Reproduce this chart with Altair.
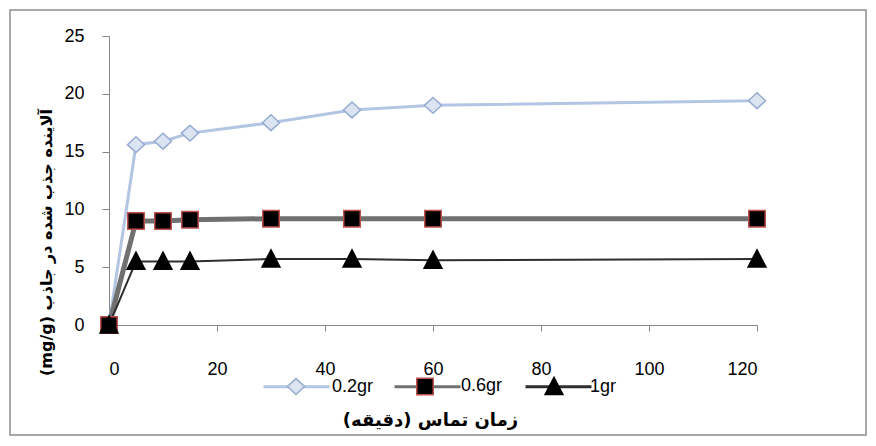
import altair as alt
import pandas as pd

times = [0, 5, 10, 15, 30, 45, 60, 120]
q_02 = [0, 15.6, 15.9, 16.6, 17.5, 18.6, 19.0, 19.4]
q_06 = [0, 9.0, 9.0, 9.1, 9.2, 9.2, 9.2, 9.2]
q_1 = [0, 5.5, 5.5, 5.5, 5.7, 5.7, 5.6, 5.7]
series = ["0.2gr", "0.6gr", "1gr"]
x_ticks = [0, 20, 40, 60, 80, 100, 120]
y_ticks = [0, 5, 10, 15, 20, 25]

x_title = "\u202Bزمان تماس (دقیقه)\u202C"
y_title = "\u202Bآلاینده جذب شده در جاذب (mg/g)\u202C"

line_keys = ["L" + s for s in series]
line_colors = ["#b3c5e3", "#707070", "#2e2e2e"]
line_widths = [3, 5, 2]
rows = []
for name, lk, vals in zip(series, line_keys, [q_02, q_06, q_1]):
    for t, v in zip(times, vals):
        rows.append({"time": t, "q": v, "series": name, "series_line": lk})
df = pd.DataFrame(rows)

W, H = 648, 289
SYM = 4356  # legend symbol area -> 66px wide

x_enc = alt.X("time:Q", scale=alt.Scale(domain=[0, 120], nice=False, zero=True),
              axis=alt.Axis(values=x_ticks, title=x_title, grid=False,
                            tickSize=6, labelPadding=29, domainColor="#868686",
                            tickColor="#868686", titleX=321, titleY=95,
                            titleBaseline="middle", titleAlign="center",
                            titleFont="DejaVu Sans", titleFontSize=18,
                            titleFontWeight="bold", titleColor="#000000",
                            labelFont="Liberation Sans", labelFontSize=18,
                            labelColor="#000000"))
y_enc = alt.Y("q:Q", scale=alt.Scale(domain=[0, 25], nice=False),
              axis=alt.Axis(values=y_ticks, title=y_title, grid=False,
                            tickSize=7, labelPadding=18, domainColor="#868686",
                            tickColor="#868686", titleX=-63, titleY=206,
                            titleBaseline="middle", titleAlign="center",
                            titleFont="DejaVu Sans", titleFontSize=16,
                            titleFontWeight="bold", titleColor="#000000",
                            labelFont="Liberation Sans", labelFontSize=18,
                            labelColor="#000000"))

base = alt.Chart(df)

line_leg = alt.Legend(orient="none", legendX=153, legendY=316,
                      direction="horizontal", columns=3, title=None,
                      symbolType="M-1,0H1", symbolSize=SYM,
                      symbolStrokeWidth=3, labelExpr="''",
                      labelFont="Liberation Sans", labelFontSize=18,
                      labelOffset=2, columnPadding=52, padding=0)
line_layers = []
for lk, w in zip(line_keys, line_widths):
    line_layers.append(
        base.transform_filter(alt.datum.series_line == lk).mark_line(strokeWidth=w).encode(
            x=x_enc, y=y_enc,
            color=alt.Color("series_line:N",
                            scale=alt.Scale(domain=line_keys, range=line_colors),
                            legend=line_leg),
        )
    )

shapes = [
    "M0,-0.24L0.26,0L0,0.24L-0.26,0Z",
    "M-0.25,-0.25H0.25V0.25H-0.25Z",
    "M0,-0.28L0.27,0.24H-0.27Z",
]
leg = alt.Legend(orient="none", legendX=153, legendY=316, direction="horizontal",
                 columns=3, title=None, symbolSize=SYM, symbolStrokeWidth=1.5,
                 labelFont="Liberation Sans", labelFontSize=18, labelColor="#000000",
                 labelOffset=2, columnPadding=17, padding=0)
points = base.mark_point(filled=True, size=SYM, strokeWidth=1.5, opacity=1).encode(
    x="time:Q", y="q:Q",
    shape=alt.Shape("series:N", scale=alt.Scale(domain=series, range=shapes), legend=leg),
    fill=alt.Fill("series:N", scale=alt.Scale(domain=series, range=["#dbe5f1", "#000000", "#000000"]), legend=leg),
    stroke=alt.Stroke("series:N", scale=alt.Scale(domain=series, range=["#95abd0", "#c0504d", "#000000"]), legend=leg),
)

border = alt.Chart(alt.Data(values=[{"a": 1}])).mark_rect(
    filled=False, stroke="#8c8c8c", strokeWidth=1.5
).encode(x=alt.value(-99), x2=alt.value(757), y=alt.value(-26), y2=alt.value(399))

chart = alt.layer(border, *line_layers, points).properties(
    width=W, height=H,
    background="#ffffff",
    autosize=alt.AutoSizeParams(type="none"),
    padding={"left": 101, "top": 28, "right": 111, "bottom": 113},
).configure_view(stroke=None)

chart.save("out.html", embed_options={"renderer": "svg", "actions": False})
